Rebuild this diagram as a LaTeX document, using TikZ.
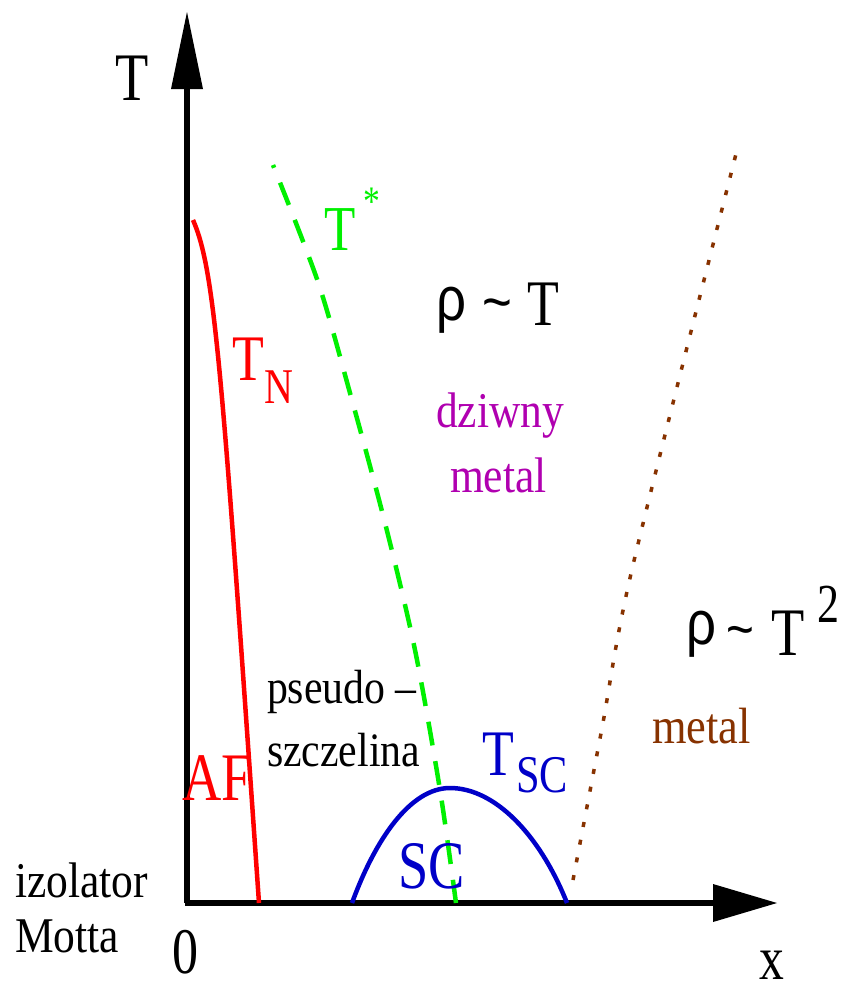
\documentclass[tikz,border=0pt]{standalone}
\usepackage{fontspec}
\setmainfont{Liberation Serif}[FakeStretch=0.87]
\newfontfamily\bigserif{Liberation Serif}[FakeStretch=0.8]
\newfontfamily\rhofont{Liberation Sans}[FakeStretch=0.85]
\definecolor{afred}{RGB}{255,0,0}
\definecolor{tgreen}{RGB}{0,240,0}
\definecolor{scblue}{RGB}{0,0,200}
\definecolor{strmag}{RGB}{176,0,176}
\definecolor{metbrown}{RGB}{135,50,0}
\newcommand{\fs}[1]{\fontsize{#1}{#1}\selectfont}
\begin{document}
\begin{tikzpicture}[x=1pt,y=-1pt,
  txt/.style={inner sep=0pt,outer sep=0pt,anchor=base west},
  axisline/.style={line width=5.5pt},
  curve/.style={line width=4.5pt}]
\useasboundingbox (0,0) rectangle (850,985);
% axes
\coordinate (O) at (187,903);
\coordinate (Ytip) at (187,12);
\coordinate (Xtip) at (777,903);
\coordinate (Ybase) at (187,86);
\coordinate (Xbase) at (716,903);
\draw[axisline] (O) -- (Ybase);
\fill (Ytip) -- (171,89) -- (203,89) -- cycle;
\draw[axisline] (185,903) -- (Xbase);
\fill (Xtip) -- (713,884) -- (713,922) -- cycle;
% T_N line
\draw[afred,curve] (193,220) .. controls (215,270) and (222,370) .. (259,903);
% T* line
\draw[tgreen,curve,dash pattern=on 24pt off 16pt,dash phase=21pt] plot[smooth] coordinates {(273,165) (318,282) (350,393) (385,523) (415,650) (440,790) (456,903)};
% SC dome
\draw[scblue,curve] (352,903) .. controls (375,840) and (410,788) .. (450,788) .. controls (495,788) and (540,835) .. (567,903);
% metal crossover
\draw[metbrown,line width=3.5pt,dash pattern=on 5pt off 13pt] plot[smooth] coordinates {(573,880) (602,728) (633,565) (737,150)};
% labels
\node[txt,font=\bigserif\fs{68}] (Tlab) at (115,100) {T};
\node[txt,font=\bigserif\fs{65}] (zero) at (172,973) {0};
\node[txt,font=\bigserif\fs{62}] (xlab) at (759,979) {x};
\node[txt,font=\fs{50}] (izo) at (15,897) {izolator};
\node[txt,font=\fs{50}] (motta) at (15,952) {Motta};
\node[txt,font=\fs{48}] (pseudo) at (267,703) {pseudo –};
\node[txt,font=\fs{48}] (szcz) at (267,766) {szczelina};
\node[txt,font=\bigserif\fs{68},text=afred] (AF) at (182,800) {AF};
\node[txt,font=\bigserif\fs{68},text=scblue] (SC) at (398,888) {SC};
\node[txt,font=\bigserif\fs{65},text=afred] (TN) at (232,380) {T};
\node[txt,font=\bigserif\fs{50},text=afred] (Nsub) at (264,403) {N};
\node[txt,font=\bigserif\fs{64},text=tgreen] (Tst) at (324,250) {T};
\node[inner sep=0pt,anchor=north west,font=\bigserif\fs{42},text=tgreen] (star) at (363,188) {*};
\node[txt,font=\bigserif\fs{65},text=scblue] (TSC) at (482,775) {T};
\node[txt,font=\bigserif\fs{53},text=scblue] (SCsub) at (516,792) {SC};
\node[txt,font=\rhofont\fs{62}] (rho1) at (436,320) {ρ};
\node[txt,font=\rhofont\fs{60}] (til1) at (482,322) {\char"7E};
\node[txt,font=\bigserif\fs{65}] (T1) at (527,325) {T};
\node[txt,font=\rhofont\fs{62}] (rho2) at (686,644) {ρ};
\node[txt,font=\rhofont\fs{56}] (til2) at (726,648) {\char"7E};
\node[txt,font=\bigserif\fs{68}] (T2) at (771,655) {T};
\node[txt,font=\bigserif\fs{55}] (two) at (817,622) {2};
\node[txt,font=\fs{50},text=strmag] (dz) at (436,427) {dziwny};
\node[txt,font=\fs{50},text=strmag] (met1) at (450,492) {metal};
\node[txt,font=\fs{51},text=metbrown] (met2) at (652,743) {metal};
\end{tikzpicture}
\end{document}
